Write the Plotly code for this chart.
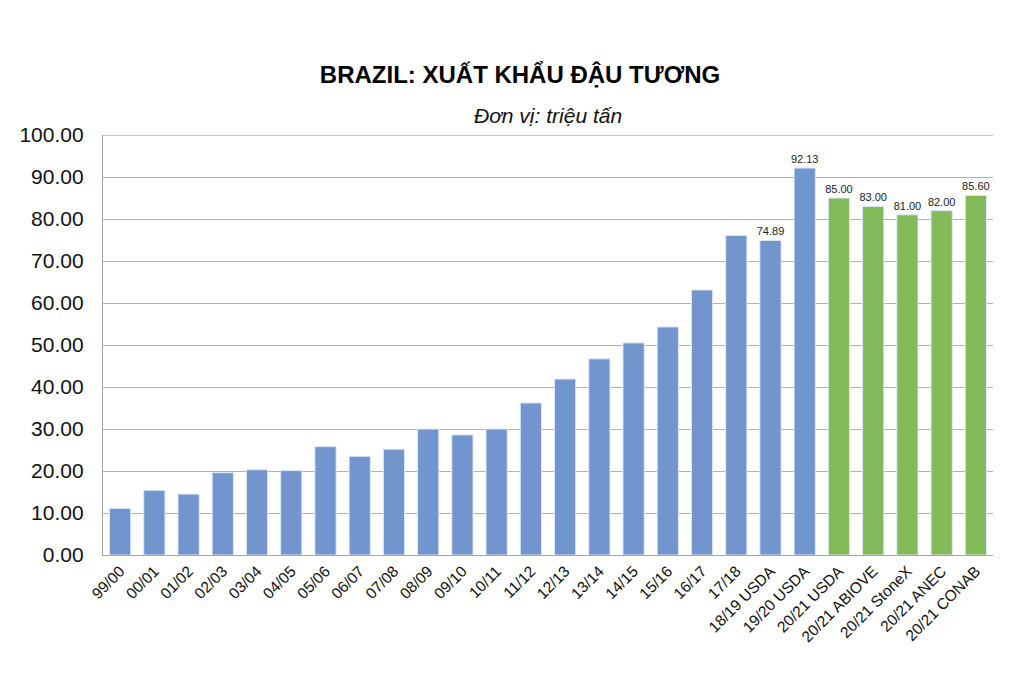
import plotly.graph_objects as go

categories = ["99/00", "00/01", "01/02", "02/03", "03/04", "04/05", "05/06", "06/07",
              "07/08", "08/09", "09/10", "10/11", "11/12", "12/13", "13/14", "14/15",
              "15/16", "16/17", "17/18", "18/19 USDA", "19/20 USDA", "20/21 USDA",
              "20/21 ABIOVE", "20/21 StoneX", "20/21 ANEC", "20/21 CONAB"]
values = [11.1, 15.4, 14.5, 19.6, 20.3, 20.1, 25.8, 23.5, 25.2, 30.0, 28.6, 30.0,
          36.2, 41.9, 46.7, 50.5, 54.3, 63.1, 76.1, 74.89, 92.13, 85.00, 83.00,
          81.00, 82.00, 85.60]
labeled = [False] * 19 + [True] * 7
forecast = [False] * 21 + [True] * 5

blue = "#7295CD"
green = "#83BB5B"
colors = [green if f else blue for f in forecast]
texts = [f"{v:.2f}" if l else "" for v, l in zip(values, labeled)]

FONT = "Liberation Sans, Arial"

fig = go.Figure(go.Bar(
    x=categories, y=values,
    marker=dict(color=colors, line=dict(color="#dfe7f3", width=1)),
    text=texts, textposition="outside", cliponaxis=False, constraintext="none",
    textfont=dict(family=FONT, size=11, color="#222222"),
))

# page body has an 8px margin, so margins are offset to land the plot area at
# x 103..993, y 135..555 in the screenshot
fig.update_layout(
    width=1024, height=683,
    paper_bgcolor="white", plot_bgcolor="white",
    margin=dict(l=95, r=39, t=127, b=136),
    bargap=0.38,
    showlegend=False,
    font=dict(family=FONT, color="#111111"),
    title=dict(text="<b>BRAZIL: XUẤT KHẨU ĐẬU TƯƠNG</b>", x=0.5, xanchor="center",
               y=1 - 67 / 683, yanchor="middle",
               font=dict(family=FONT, size=24, color="#000000")),
    annotations=[dict(text="<i>Đơn vị: triệu tấn</i>", xref="paper", yref="paper",
                      x=0.5, y=1 + (135 - 116) / 420, xanchor="center", yanchor="middle",
                      showarrow=False,
                      font=dict(family=FONT, size=21, color="#111111"))],
)

fig.update_yaxes(range=[0, 100], dtick=10, tickformat=".2f",
                 showgrid=True, gridcolor="#b3b3b3", gridwidth=1.3,
                 showline=True, linecolor="#a6a6a6", linewidth=1.3,
                 mirror=False, ticks="", zeroline=False, ticklabelstandoff=14,
                 tickfont=dict(size=21, color="#111111"))
fig.update_xaxes(showline=True, linecolor="#a6a6a6", linewidth=1.3, ticks="",
                 tickangle=-45, tickfont=dict(size=15.5, color="#111111"))

fig.add_shape(type="line", xref="paper", yref="y", x0=0, x1=1, y0=100, y1=100,
              line=dict(color="#b3b3b3", width=1.3), layer="below")

fig.write_html("out.html")
